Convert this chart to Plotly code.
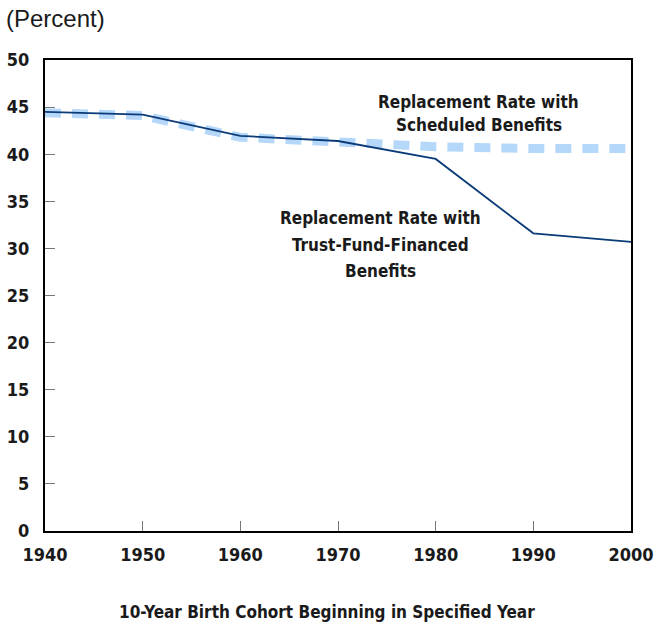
import plotly.graph_objects as go

years = [1940, 1950, 1960, 1970, 1980, 1990, 2000]
scheduled = [44.4, 44.1, 41.8, 41.2, 40.8, 40.6, 40.6]
trust_fund = [44.5, 44.2, 41.95, 41.4, 39.5, 31.6, 30.7]
y_ticks = [0, 5, 10, 15, 20, 25, 30, 35, 40, 45, 50]
x_ticks = [1940, 1950, 1960, 1970, 1980, 1990, 2000]

label_sched = ["Replacement Rate with", "Scheduled Benefits"]
label_trust = ["Replacement Rate with", "Trust-Fund-Financed", "Benefits"]

FONT = "DejaVu Sans Condensed, Liberation Sans Narrow, Arial Narrow, sans-serif"

fig = go.Figure()
fig.add_trace(go.Scatter(x=years, y=scheduled, mode="lines",
                         line=dict(color="#b5d8fa", width=9, dash="16px,11px"),
                         name="Scheduled", showlegend=False))
fig.add_trace(go.Scatter(x=years, y=trust_fund, mode="lines",
                         line=dict(color="#0b3b78", width=1.8),
                         name="Trust-Fund", showlegend=False))

def add_label(lines, xval, yval, spacing=26):
    n = len(lines)
    for i, t in enumerate(lines):
        fig.add_annotation(x=xval, y=yval, xref="x", yref="y",
                           yshift=((n - 1) / 2 - i) * spacing,
                           text=f"<b>{t}</b>", showarrow=False,
                           font=dict(family=FONT, size=17, color="#1a1a1a"),
                           align="center")

add_label(label_sched, 1984.4, 44.3, spacing=23)
add_label(label_trust, 1974.4, 30.4, spacing=26.5)

fig.add_annotation(x=0, y=1, xref="paper", yref="paper", xshift=-41, yshift=57,
                   xanchor="left", yanchor="top",
                   text="(Percent)", showarrow=False,
                   font=dict(family="Liberation Sans, Arial, sans-serif", size=24, color="#1a1a1a"))
fig.add_annotation(x=0.5, y=0, xref="paper", yref="paper", yshift=-81, xshift=-11,
                   xanchor="center", yanchor="middle",
                   text="<b>10-Year Birth Cohort Beginning in Specified Year</b>", showarrow=False,
                   font=dict(family=FONT, size=17, color="#1a1a1a"))

fig.update_layout(
    width=654, height=625,
    margin=dict(l=45, r=23, t=60, b=94),
    paper_bgcolor="white", plot_bgcolor="white",
    font=dict(family=FONT, size=18, color="#1a1a1a"),
    xaxis=dict(range=[1940, 2000], tickvals=x_ticks,
               ticktext=[f"<b>{v}</b>" for v in x_ticks],
               ticks="inside", ticklen=10, tickcolor="#777", showgrid=False, zeroline=False,
               showline=True, linecolor="black", linewidth=2, mirror=True,
               automargin=False, ticklabelstandoff=6),
    yaxis=dict(range=[0, 50], tickvals=y_ticks,
               ticktext=[f"<b>{v}</b>" for v in y_ticks],
               ticks="inside", ticklen=10, tickcolor="#777", showgrid=False, zeroline=False,
               showline=True, linecolor="black", linewidth=2, mirror=True,
               automargin=False, ticklabelstandoff=10),
)

fig.write_html("out.html", config={"displayModeBar": False},
               post_script="document.body.style.margin='0';document.body.style.overflow='hidden';")
